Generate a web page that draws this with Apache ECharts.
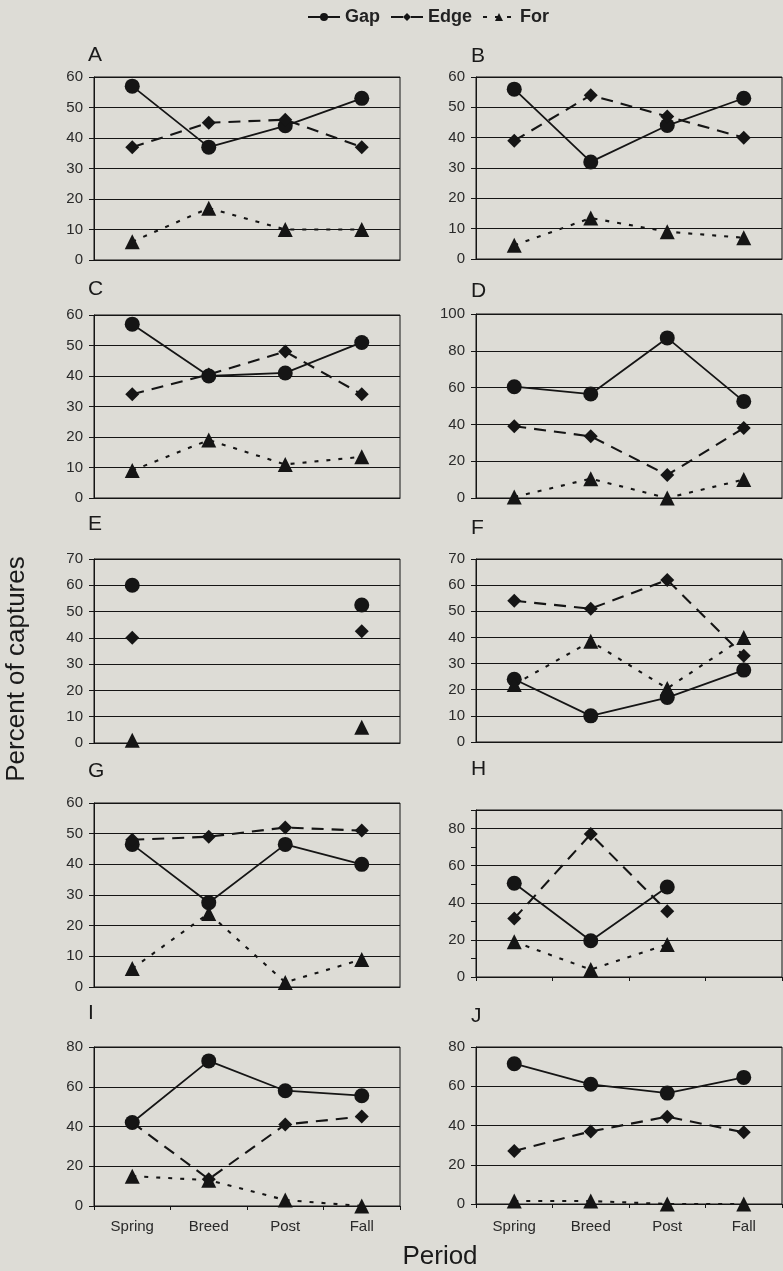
<!DOCTYPE html>
<html>
<head>
<meta charset="utf-8">
<style>
  html, body { margin: 0; padding: 0; background: #dddcd6; }
  #chart { width: 783px; height: 1271px; }
</style>
<script src="https://cdn.jsdelivr.net/npm/echarts@6/dist/echarts.min.js"></script>
</head>
<body>
<div id="chart"></div>
<script>
// ---- Data ----
const categories = ['Spring', 'Breed', 'Post', 'Fall'];
const seriesNames = ['Gap', 'Edge', 'For'];
const panelLabels = ['A', 'B', 'C', 'D', 'E', 'F', 'G', 'H', 'I', 'J'];

const gapA = [57, 37, 44, 53];
const edgeA = [37, 45, 46, 37];
const forA = [6, 17, 10, 10];

const gapB = [56, 32, 44, 53];
const edgeB = [39, 54, 47, 40];
const forB = [4.5, 13.5, 9, 7];

const gapC = [57, 40, 41, 51];
const edgeC = [34, 40.5, 48, 34];
const forC = [9, 19, 11, 13.5];

const gapD = [60.5, 56.5, 87, 52.5];
const edgeD = [39, 33.5, 12.5, 38];
const forD = [0.5, 10.5, 0, 10];

const gapE = [60, null, null, 52.5];
const edgeE = [40, null, null, 42.5];
const forE = [1, null, null, 6];

const gapF = [24, 10, 17, 27.5];
const edgeF = [54, 51, 62, 33];
const forF = [22, 38.5, 20.5, 40];

const gapG = [46.5, 27.5, 46.5, 40];
const edgeG = [48, 49, 52, 51];
const forG = [6, 24, 1.5, 9];

const gapH = [50.5, 19.5, 48.5, null];
const edgeH = [31.5, 77, 35.5, null];
const forH = [19, 4, 17.5, null];

const gapI = [42, 73, 58, 55.5];
const edgeI = [42, 13.5, 41, 45];
const forI = [15, 13, 3, 0];

const gapJ = [71.5, 61, 56.5, 64.5];
const edgeJ = [27, 37, 44.5, 36.5];
const forJ = [1.5, 1.5, 0, 0];

const yMax = [60, 60, 60, 100, 70, 70, 60, 90, 80, 80];
const yInterval = [10, 10, 10, 20, 10, 10, 10, 20, 20, 20];

const panelData = [
  [gapA, edgeA, forA], [gapB, edgeB, forB], [gapC, edgeC, forC], [gapD, edgeD, forD],
  [gapE, edgeE, forE], [gapF, edgeF, forF], [gapG, edgeG, forG], [gapH, edgeH, forH],
  [gapI, edgeI, forI], [gapJ, edgeJ, forJ]
];

// ---- Layout (pixels) ----
const colLeft = [94, 476];
const plotWidth = 306;
const layout = [
  { top: 77, h: 183, labelTop: 45 },
  { top: 77, h: 182, labelTop: 46 },
  { top: 315, h: 183, labelTop: 279 },
  { top: 314, h: 184, labelTop: 281 },
  { top: 559, h: 184, labelTop: 514 },
  { top: 559, h: 183, labelTop: 518 },
  { top: 803, h: 184, labelTop: 761 },
  { top: 810, h: 167, labelTop: 759 },
  { top: 1047, h: 159, labelTop: 1003 },
  { top: 1047, h: 157, labelTop: 1006 }
];

const ink = '#151515';
const font = '"Liberation Sans", Arial, sans-serif';

const styles = [
  { symbol: 'circle', symbolSize: 15, lineStyle: { type: 'solid', width: 1.8 } },
  { symbol: 'diamond', symbolSize: 14, lineStyle: { type: [12, 8], width: 2.1 } },
  { symbol: 'triangle', symbolSize: 15, lineStyle: { type: [4, 8], width: 2.1 } }
];

const grids = [], xAxes = [], yAxes = [], series = [], graphics = [];
let yIdx = 0;

panelLabels.forEach((lab, i) => {
  const col = i % 2;
  const L = layout[i];
  grids.push({
    left: colLeft[col], width: plotWidth, top: L.top, height: L.h,
    show: true, borderColor: ink, borderWidth: 1, backgroundColor: 'transparent'
  });
  const showCats = i >= 8;
  const showXTicks = i >= 7;
  xAxes.push({
    type: 'category', gridIndex: i, data: categories, boundaryGap: true,
    axisLine: { show: true, lineStyle: { color: ink, width: 1 } },
    axisTick: { show: showXTicks, length: 4, lineStyle: { color: ink } },
    axisLabel: { show: showCats, color: '#2a2a2a', fontSize: 15, fontFamily: font,
                 margin: i === 9 ? 15 : 13 },
    splitLine: { show: false }
  });
  const isH = (i === 7);
  yAxes.push({
    type: 'value', gridIndex: i, min: 0, max: yMax[i],
    interval: isH ? 10 : yInterval[i],
    axisLine: { show: true, lineStyle: { color: ink, width: 1 } },
    axisTick: { show: true, length: 5, inside: false, lineStyle: { color: ink } },
    axisLabel: {
      color: '#2a2a2a', fontSize: 15, fontFamily: font, margin: 11,
      formatter: isH ? (v) => (v % 20 === 0 && v < 90 ? String(v) : '') : null
    },
    splitLine: { show: !isH, lineStyle: { color: ink, width: 1 } }
  });
  const mainYIndex = yIdx++;
  if (isH) {
    yAxes.push({
      type: 'value', gridIndex: i, min: 0, max: yMax[i], interval: yInterval[i],
      axisLine: { show: false }, axisTick: { show: false }, axisLabel: { show: false },
      splitLine: { show: true, lineStyle: { color: ink, width: 1 } }
    });
    yIdx++;
  }
  panelData[i].forEach((vals, s) => {
    series.push({
      name: seriesNames[s], type: 'line', xAxisIndex: i, yAxisIndex: mainYIndex,
      data: vals, connectNulls: false, symbol: styles[s].symbol,
      symbolSize: styles[s].symbolSize,
      itemStyle: { color: ink },
      lineStyle: Object.assign({ color: ink }, styles[s].lineStyle),
      clip: false, animation: false, z: 3 + s
    });
  });
  graphics.push({
    type: 'text', left: col === 0 ? 88 : 471, top: L.labelTop,
    style: { text: lab, fontSize: 21, fontFamily: font, fill: '#1a1a1a' }
  });
});

graphics.push({
  type: 'text', x: 17, y: 669, rotation: Math.PI / 2,
  style: { text: 'Percent of captures', fontSize: 26, fontFamily: font, fill: '#1a1a1a',
           align: 'center', verticalAlign: 'middle' }
});
graphics.push({
  type: 'text', x: 440, y: 1257,
  style: { text: 'Period', fontSize: 26, fontFamily: font, fill: '#1a1a1a',
           align: 'center', verticalAlign: 'middle' }
});

const option = {
  backgroundColor: '#dddcd6',
  animation: false,
  legend: {
    data: seriesNames, top: 3, left: 302, itemWidth: 32, itemHeight: 10, itemGap: 10,
    textStyle: { color: '#222', fontSize: 18, fontWeight: 'bold', fontFamily: font },
    selectedMode: false
  },
  grid: grids,
  xAxis: xAxes,
  yAxis: yAxes,
  series: series,
  graphic: graphics
};

const chart = echarts.init(document.getElementById('chart'), null, { renderer: 'canvas' });
chart.setOption(option);
</script>
</body>
</html>
